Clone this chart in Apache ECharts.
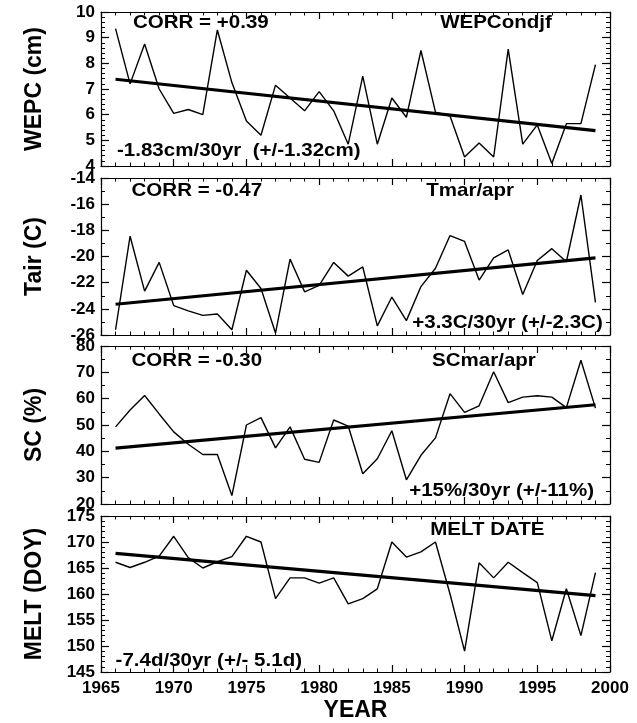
<!DOCTYPE html>
<html><head><meta charset="utf-8">
<script src="https://cdn.jsdelivr.net/npm/echarts@6/dist/echarts.min.js"></script>
<style>html,body{margin:0;padding:0;background:#fff}#c{width:637px;height:723px}</style>
</head><body><div id="c"></div>
<script>
// ---- data ----
const years = [1966,1967,1968,1969,1970,1971,1972,1973,1974,1975,1976,1977,1978,1979,1980,1981,1982,1983,1984,1985,1986,1987,1988,1989,1990,1991,1992,1993,1994,1995,1996,1997,1998,1999];
const wepc = [9.35,7.2,8.75,7.0,6.05,6.2,6.0,9.3,7.25,5.75,5.2,7.15,6.65,6.15,6.9,6.15,4.85,7.5,4.85,6.65,5.9,8.5,6.1,5.95,4.35,4.9,4.35,8.55,4.85,5.6,4.1,5.65,5.65,7.95];
const tair = [-25.6,-18.45,-22.65,-20.45,-23.75,-24.15,-24.5,-24.4,-25.6,-21.05,-22.45,-25.85,-20.2,-22.7,-22.2,-20.45,-21.5,-20.8,-25.3,-23.1,-24.9,-22.3,-20.9,-18.4,-18.85,-21.8,-20.1,-19.5,-22.9,-20.3,-19.4,-20.4,-15.3,-23.5];
const sc = [49.3,55.7,61.2,54.2,47.4,42.7,38.8,38.8,23.2,50.0,52.8,41.3,49.3,37.0,35.8,51.9,49.6,31.5,37.2,47.8,29.2,38.5,45.1,61.9,54.8,57.3,70.2,58.5,60.6,61.1,60.6,56.6,74.6,56.4];
const melt = [166.1,165.1,166.1,167.3,171.1,167.0,165.0,166.2,167.2,171.1,170.0,159.1,163.1,163.1,162.1,163.1,158.1,159.1,161.0,170.0,167.1,168.1,170.0,160.0,149.0,166.0,163.1,166.1,164.1,162.2,151.0,161.0,152.0,164.1];
const trendYears = [1966, 1999];
const wepcTrend = [7.38, 5.38];
const tairTrend = [-23.65, -20.1];
const scTrend = [41.2, 57.7];
const meltTrend = [167.8, 159.7];
const yNames = ['WEPC (cm)', 'Tair (C)', 'SC (%)', 'MELT (DOY)'];
const yMin = [4, -26, 20, 145];
const yMax = [10, -14, 80, 175];
const yStep = [1, 2, 10, 5];
const yMinor = [5, 2, 2, 5];
const xMin = 1965, xMax = 2000, xStep = 5;
const corrText = ['CORR = +0.39', 'CORR = -0.47', 'CORR = -0.30', null];
const titleText = ['WEPCondjf', 'Tmar/apr', 'SCmar/apr', 'MELT DATE'];
const trendText = ['-1.83cm/30yr  (+/-1.32cm)', '+3.3C/30yr (+/-2.3C)', '+15%/30yr (+/-11%)', '-7.4d/30yr (+/- 5.1d)'];

// ---- layout (not data) ----
const gridTops = [12, 178, 346, 516];
const gridHeights = [154, 157, 158, 157];
const FONT = '"Liberation Sans", Arial, Helvetica, sans-serif';
const corrPos = [[1967.2, 9.57], [1967.1, -14.95], [1967.1, 74.3], null];
const titlePos = [[1996.0, 9.57], [1993.4, -14.95], [1994.9, 74.3], [1995.5, 172.4]];
const trendPos = [[1966.1, 4.6, 'left'], [1999.5, -25.05, 'right'], [1998.9, 25.1, 'right'], [1966.0, 147.1, 'left']];

const series = [[wepc, wepcTrend], [tair, tairTrend], [sc, scTrend], [melt, meltTrend]];

const grid = [], xAxis = [], yAxis = [], ser = [];
for (let i = 0; i < 4; i++) {
  grid.push({left: 101, right: 27, top: gridTops[i], height: gridHeights[i]});
  const lineStyle = {color: '#000', width: 1.2};
  const xBase = {
    gridIndex: i, type: 'value', min: xMin, max: xMax, interval: xStep,
    axisLine: {show: true, onZero: false, lineStyle},
    axisTick: {show: true, inside: true, length: 7, lineStyle},
    minorTick: {show: true, splitNumber: 5, length: 3.5, lineStyle: {color: '#000', width: 1}},
    splitLine: {show: false}
  };
  xAxis.push(Object.assign({}, xBase, {
    position: 'bottom',
    axisLabel: {show: i === 3, color: '#000', fontSize: 17, fontWeight: 'bold', fontFamily: FONT, margin: 8,
      formatter: v => String(v)},
    name: i === 3 ? 'YEAR' : '', nameLocation: 'middle', nameGap: 27,
    nameTextStyle: {color: '#000', fontSize: 23, fontWeight: 'bold', fontFamily: FONT}
  }));
  xAxis.push(Object.assign({}, xBase, {position: 'top', axisLabel: {show: false}}));
  const yBase = {
    gridIndex: i, type: 'value', min: yMin[i], max: yMax[i], interval: yStep[i],
    axisLine: {show: true, onZero: false, lineStyle},
    axisTick: {show: true, inside: true, length: 8, lineStyle},
    minorTick: {show: true, splitNumber: yMinor[i], length: 4, lineStyle: {color: '#000', width: 1}},
    splitLine: {show: false}
  };
  yAxis.push(Object.assign({}, yBase, {
    position: 'left',
    axisLabel: {color: '#000', fontSize: 17, fontWeight: 'bold', fontFamily: FONT, margin: 6},
    name: yNames[i], nameLocation: 'middle', nameGap: 55, nameRotate: 90,
    nameTextStyle: {color: '#000', fontSize: 23, fontWeight: 'bold', fontFamily: FONT}
  }));
  yAxis.push(Object.assign({}, yBase, {position: 'right', axisLabel: {show: false}}));
  ser.push({
    type: 'line', xAxisIndex: 2 * i, yAxisIndex: 2 * i, symbol: 'none', silent: true,
    lineStyle: {color: '#000', width: 1.4},
    data: years.map((y, k) => [y, series[i][0][k]])
  });
  ser.push({
    type: 'line', xAxisIndex: 2 * i, yAxisIndex: 2 * i, symbol: 'none', silent: true,
    lineStyle: {color: '#000', width: 3.2},
    data: trendYears.map((y, k) => [y, series[i][1][k]])
  });
}

const chart = echarts.init(document.getElementById('c'), null, {renderer: 'canvas'});
chart.setOption({animation: false, backgroundColor: '#fff', grid, xAxis, yAxis, series: ser});

function txt(text, pos, gi, align) {
  const p = chart.convertToPixel({xAxisIndex: 2 * gi, yAxisIndex: 2 * gi}, [pos[0], pos[1]]);
  return {
    type: 'text', x: p[0], y: p[1], scaleX: 1.08, z: 10,
    style: {text, fill: '#000', font: 'bold 19px ' + FONT, align, verticalAlign: 'middle'}
  };
}
const g = [];
for (let i = 0; i < 4; i++) {
  if (corrText[i]) g.push(txt(corrText[i], corrPos[i], i, 'left'));
  g.push(txt(titleText[i], titlePos[i], i, 'right'));
  g.push(txt(trendText[i], trendPos[i], i, trendPos[i][2]));
}
chart.setOption({graphic: g});
</script></body></html>
